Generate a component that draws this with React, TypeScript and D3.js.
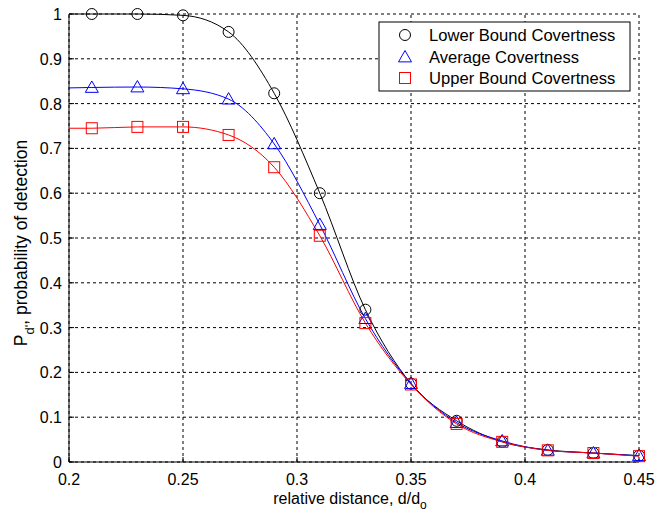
import React from "react";
import * as d3 from "d3";

const distances = [0.21, 0.23, 0.25, 0.27, 0.29, 0.31, 0.33, 0.35, 0.37, 0.39, 0.41, 0.43, 0.45];
const lowerBound = [1.0, 1.0, 0.997, 0.96, 0.823, 0.6, 0.34, 0.175, 0.092, 0.045, 0.027, 0.02, 0.014];
const average = [0.836, 0.837, 0.833, 0.81, 0.71, 0.53, 0.32, 0.175, 0.088, 0.047, 0.026, 0.02, 0.014];
const upperBound = [0.745, 0.748, 0.748, 0.73, 0.658, 0.505, 0.31, 0.173, 0.085, 0.045, 0.026, 0.02, 0.013];
// fitted curve values at the left edge (d/d0 = 0.2)
const curveStartX = 0.2;
const lowerStart = 1.0;
const averageStart = 0.835;
const upperStart = 0.745;

const xTicks = [0.2, 0.25, 0.3, 0.35, 0.4, 0.45];
const yTicks = [0, 0.1, 0.2, 0.3, 0.4, 0.5, 0.6, 0.7, 0.8, 0.9, 1];
const legendLabels = ["Lower Bound Covertness", "Average Covertness", "Upper Bound Covertness"];

const W = 667, H = 514;
const L = 69, R = 639, T = 14, B = 462;
const FONT = "'Liberation Sans', Arial, Helvetica, sans-serif";

export default function App() {
  const x = d3.scaleLinear().domain([0.2, 0.45]).range([L, R]);
  const y = d3.scaleLinear().domain([0, 1]).range([B, T]);
  const line = d3
    .line<[number, number]>()
    .x((d) => x(d[0]))
    .y((d) => y(d[1]))
    .curve(d3.curveMonotoneX);

  const series = [
    { vals: lowerBound, start: lowerStart, color: "#000000", marker: "circle" },
    { vals: average, start: averageStart, color: "#0000ff", marker: "triangle" },
    { vals: upperBound, start: upperStart, color: "#ff0000", marker: "square" },
  ];

  const marker = (type: string, cx: number, cy: number, color: string, key: any) => {
    if (type === "circle")
      return <circle key={key} cx={cx} cy={cy} r={5.5} fill="none" stroke={color} strokeWidth={1} />;
    if (type === "triangle") {
      const s = 6.5;
      const p = `${cx},${cy - s} ${cx + s},${cy + s * 0.75} ${cx - s},${cy + s * 0.75}`;
      return <polygon key={key} points={p} fill="none" stroke={color} strokeWidth={1} />;
    }
    const h = 5.5;
    return <rect key={key} x={cx - h} y={cy - h} width={2 * h} height={2 * h} fill="none" stroke={color} strokeWidth={1} />;
  };

  const legX = 379, legY = 22, legW = 251, legH = 69;
  const rowY = [35, 57, 78];

  return (
    <svg width={W} height={H} style={{ position: "absolute", left: 0, top: 0, background: "#fff" }} fontFamily={FONT}>
      <rect x={0} y={0} width={W} height={H} fill="#fff" />
      {/* grid */}
      {xTicks.map((t) => (
        <line key={"gx" + t} x1={x(t)} x2={x(t)} y1={B} y2={T} stroke="#000" strokeWidth={1} strokeDasharray="3,3" />
      ))}
      {yTicks.map((t) => (
        <line key={"gy" + t} x1={L} x2={R} y1={y(t)} y2={y(t)} stroke="#000" strokeWidth={1} strokeDasharray="3,3" />
      ))}
      {/* axes */}
      <line x1={L} x2={L} y1={T} y2={B} stroke="#000" strokeWidth={1} />
      <line x1={L} x2={R} y1={B} y2={B} stroke="#000" strokeWidth={1} />
      {xTicks.map((t) => (
        <g key={"xt" + t}>
          <line x1={x(t)} x2={x(t)} y1={B} y2={B - 5} stroke="#000" />
          <text x={x(t)} y={B + 23} textAnchor="middle" fontSize={16}>{String(t)}</text>
        </g>
      ))}
      {yTicks.map((t) => (
        <g key={"yt" + t}>
          <line x1={L} x2={L + 5} y1={y(t)} y2={y(t)} stroke="#000" />
          <text x={L - 7} y={y(t) + 6} textAnchor="end" fontSize={16}>{String(t)}</text>
        </g>
      ))}
      {/* curves */}
      {series.map((s, i) => {
        const pts: [number, number][] = [[curveStartX, s.start], ...distances.map((d, j) => [d, s.vals[j]] as [number, number])];
        return <path key={"c" + i} d={line(pts) || ""} fill="none" stroke={s.color} strokeWidth={1} />;
      })}
      {series.map((s, i) => (
        <g key={"m" + i}>{distances.map((d, j) => marker(s.marker, x(d), y(s.vals[j]), s.color, j))}</g>
      ))}
      {/* legend */}
      <rect x={legX} y={legY} width={legW} height={legH} fill="#fff" stroke="#000" strokeWidth={1} />
      {series.map((s, i) => (
        <g key={"l" + i}>
          {marker(s.marker, 405, rowY[i], s.color, "lm" + i)}
          <text x={429} y={rowY[i] + 6} fontSize={16.6}>{legendLabels[i]}</text>
        </g>
      ))}
      {/* axis labels */}
      <text x={350} y={504} textAnchor="middle" fontSize={16}>
        relative distance, d/d<tspan dy={5} fontSize={12}>o</tspan>
      </text>
      <text transform={`translate(27, ${243}) rotate(-90)`} textAnchor="middle" fontSize={17.5}>
        P<tspan dy={7} fontSize={13}>d</tspan><tspan fontSize={13}>'</tspan><tspan dy={-7}>, probability of detection</tspan>
      </text>
    </svg>
  );
}
